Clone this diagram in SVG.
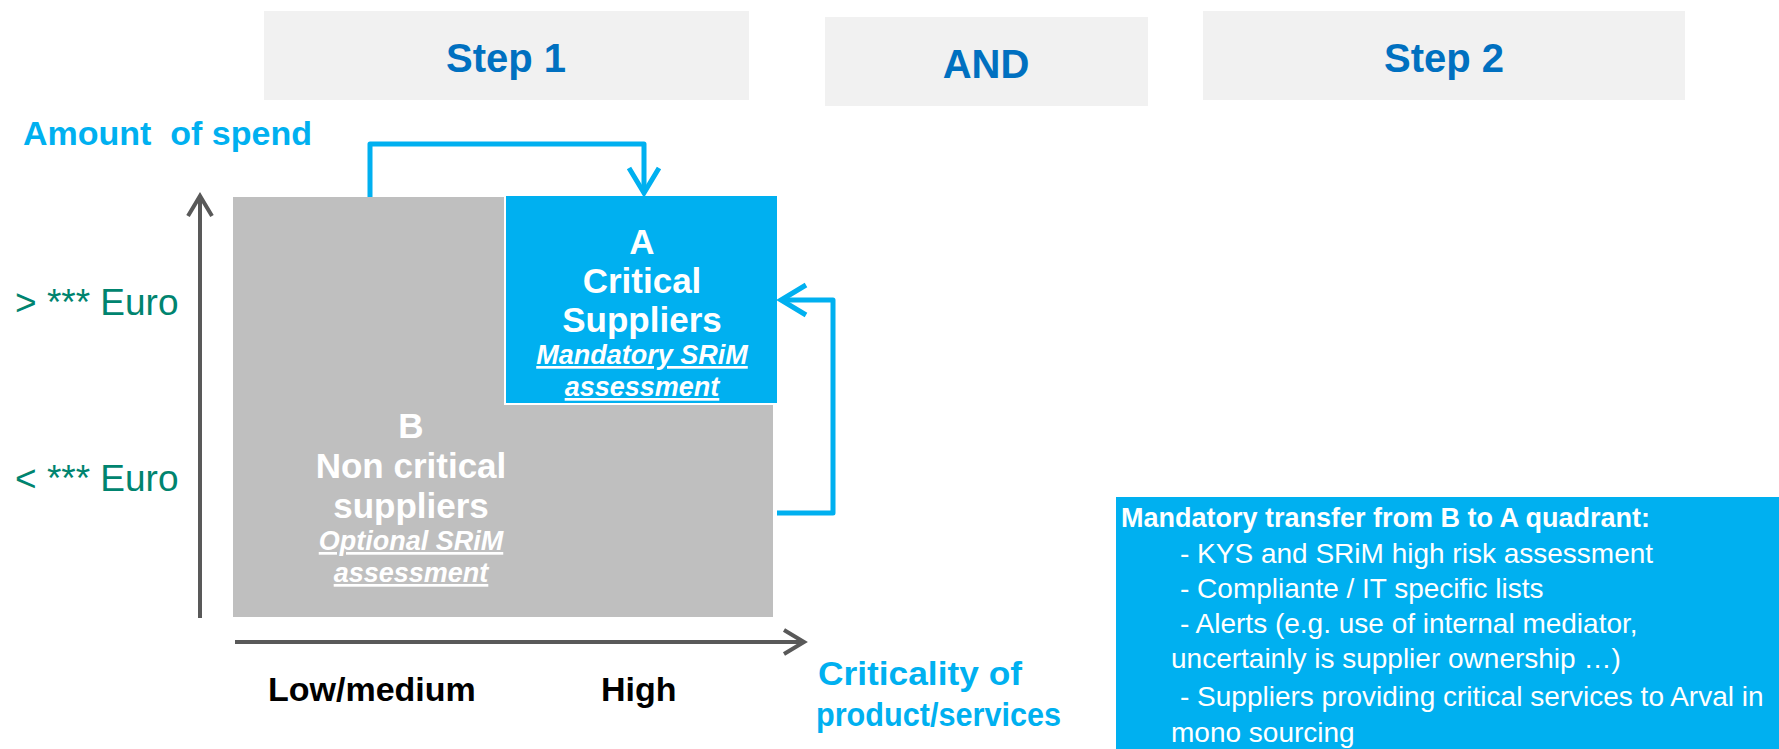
<svg xmlns="http://www.w3.org/2000/svg" width="1779" height="749" viewBox="0 0 1779 749">
<style>
.hdr{fill:#F1F1F1}
.hdrt{font-family:"Liberation Sans",Arial,sans-serif;font-weight:bold;font-size:40px;fill:#0070C0;text-anchor:middle}
.lbl{font-family:"Liberation Sans",Arial,sans-serif;font-weight:bold;fill:#00B0F0}
.eur{font-family:"Liberation Sans",Arial,sans-serif;font-size:37px;fill:#00846F}
.wt{font-family:"Liberation Sans",Arial,sans-serif;font-weight:bold;fill:#FFFFFF;text-anchor:middle;font-size:35px}
.wi{font-family:"Liberation Sans",Arial,sans-serif;font-weight:bold;font-style:italic;text-decoration:underline;fill:#FFFFFF;text-anchor:middle;font-size:27px}
.ax{font-family:"Liberation Sans",Arial,sans-serif;font-weight:bold;fill:#000000;font-size:34px}
.bx{font-family:"Liberation Sans",Arial,sans-serif;fill:#FFFFFF;font-size:28px}
.bxh{font-family:"Liberation Sans",Arial,sans-serif;fill:#FFFFFF;font-size:27px;font-weight:bold}
.axis{stroke:#595959;stroke-width:4;fill:none}
.conn{stroke:#00B0F0;stroke-width:5;fill:none;stroke-linejoin:round}
</style>
<defs>
<marker id="ga" viewBox="-30 -20 40 40" refX="0" refY="0" markerWidth="40" markerHeight="40" orient="auto" markerUnits="userSpaceOnUse" overflow="visible">
<path d="M-20,-12 L0,0 L-20,12" fill="none" stroke="#595959" stroke-width="4"/>
</marker>
<marker id="ba" viewBox="-30 -20 40 40" refX="0" refY="0" markerWidth="40" markerHeight="40" orient="auto" markerUnits="userSpaceOnUse" overflow="visible">
<path d="M-25,-15 L0,0 L-25,15" fill="none" stroke="#00B0F0" stroke-width="5"/>
</marker>
</defs>
<rect width="1779" height="749" fill="#FFFFFF"/>
<g id="step1"><rect class="hdr" x="264" y="11" width="485" height="89"/><text class="hdrt" x="506" y="72">Step 1</text></g>
<g id="and"><rect class="hdr" x="825" y="17" width="323" height="89"/><text class="hdrt" x="986" y="78">AND</text></g>
<g id="step2"><rect class="hdr" x="1203" y="11" width="482" height="89"/><text class="hdrt" x="1444" y="72">Step 2</text></g>
<g id="yaxis-label"><text class="lbl" x="23" y="145" font-size="34" xml:space="preserve" style="white-space:pre">Amount  of spend</text></g>
<g id="euro-high"><text class="eur" x="15" y="315">&gt; *** Euro</text></g>
<g id="euro-low"><text class="eur" x="15" y="491">&lt; *** Euro</text></g>
<g id="quadrant-b">
<path d="M233,197 H504 V405 H773 V617 H233 Z" fill="#BFBFBF"/>
<text class="wt" x="411" y="438">B</text>
<text class="wt" x="411" y="478">Non critical</text>
<text class="wt" x="411" y="518">suppliers</text>
<text class="wi" x="411" y="550">Optional SRiM</text>
<text class="wi" x="411" y="582">assessment</text>
</g>
<g id="quadrant-a">
<rect x="506" y="196" width="271" height="207" fill="#00B0F0"/>
<text class="wt" x="642" y="254">A</text>
<text class="wt" x="642" y="293">Critical</text>
<text class="wt" x="642" y="332">Suppliers</text>
<text class="wi" x="642" y="364">Mandatory SRiM</text>
<text class="wi" x="642" y="396">assessment</text>
</g>
<g id="axes">
<line class="axis" x1="200" y1="618" x2="200" y2="196" marker-end="url(#ga)"/>
<line class="axis" x1="235" y1="642" x2="804" y2="642" marker-end="url(#ga)"/>
</g>
<g id="xaxis-labels">
<text class="ax" x="268" y="701">Low/medium</text>
<text class="ax" x="601" y="701">High</text>
<text class="lbl" x="818" y="685" font-size="34" textLength="204" lengthAdjust="spacingAndGlyphs">Criticality of</text>
<text class="lbl" x="816" y="726" font-size="33" textLength="245" lengthAdjust="spacingAndGlyphs">product/services</text>
</g>
<g id="connectors">
<path class="conn" d="M370,197 V144 H644 V193" marker-end="url(#ba)"/>
<path class="conn" d="M777,513 H833 V300 H781" marker-end="url(#ba)"/>
</g>
<g id="transfer-box">
<rect x="1116" y="497" width="663" height="252" fill="#00B0F0"/>
<text class="bxh" x="1121" y="527">Mandatory transfer from B to A quadrant:</text>
<text class="bx" x="1180" y="563">- KYS and SRiM high risk assessment</text>
<text class="bx" x="1180" y="598">- Compliante / IT specific lists</text>
<text class="bx" x="1180" y="633">- Alerts (e.g. use of internal mediator,</text>
<text class="bx" x="1171" y="668">uncertainly is supplier ownership …)</text>
<text class="bx" x="1180" y="706">- Suppliers providing critical services to Arval in</text>
<text class="bx" x="1171" y="742">mono sourcing</text>
</g>
</svg>
